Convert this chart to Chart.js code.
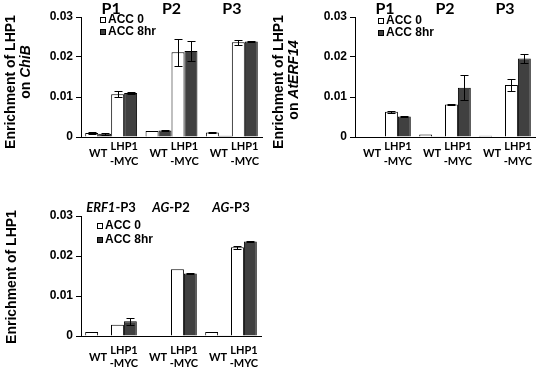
<!DOCTYPE html>
<html>
<head>
<meta charset="utf-8">
<script src="https://cdn.jsdelivr.net/npm/chart.js@4.4.0/dist/chart.umd.min.js"></script>
<style>
body { margin: 0; background: #fff; }
#wrap { position: relative; width: 537px; height: 371px; }
canvas { position: absolute; }
</style>
</head>
<body>
<div id="wrap">
  <canvas id="chib" width="268" height="175" style="left:0;top:0"></canvas>
  <canvas id="erf14" width="269" height="175" style="left:268px;top:0"></canvas>
  <canvas id="other" width="268" height="191" style="left:0;top:180px"></canvas>
</div>
<script>
// shared categories
const series = ['ACC 0', 'ACC 8hr'];
const genotypes = ['WT', ['LHP1', '-MYC']];
const yTicks = [0, 0.01, 0.02, 0.03];

// values per bar pair: WT-P1, LHP1-P1, WT-P2, LHP1-P2, WT-P3, LHP1-P3
const chibGroups = ['P1', 'P2', 'P3'];
const chibAcc0 = [0.0010, 0.0107, 0.0015, 0.0212, 0.0011, 0.0237];
const chibAcc0Err = [0.0003, 0.0008, 0.0001, 0.0034, 0.0002, 0.0006];
const chibAcc8 = [0.0008, 0.0110, 0.0016, 0.0215, 0.0003, 0.0239];
const chibAcc8Err = [0.0002, 0.0002, 0.0001, 0.0024, 0, 0.0001];

const erf14Groups = ['P1', 'P2', 'P3'];
const erf14Acc0 = [0.0001, 0.0063, 0.0006, 0.0081, 0.0003, 0.0130];
const erf14Acc0Err = [0, 0.0002, 0, 0.0002, 0, 0.0014];
const erf14Acc8 = [0.0001, 0.0051, 0.0002, 0.0123, 0.0001, 0.0196];
const erf14Acc8Err = [0, 0.0001, 0, 0.0031, 0, 0.0012];

// *...* = italic
const otherGroups = ['*ERF1*-P3', '*AG*-P2', '*AG*-P3'];
const otherAcc0 = [0.0010, 0.0028, 0.0001, 0.0167, 0.0010, 0.0222];
const otherAcc0Err = [0.0001, 0, 0, 0, 0.0001, 0.0004];
const otherAcc8 = [0.0001, 0.0037, 0, 0.0156, 0.0002, 0.0236];
const otherAcc8Err = [0, 0.0009, 0, 0.0002, 0, 0.0002];

const ARIAL = '"Liberation Sans", Arial, sans-serif';
const LATO = 'Lato, "Liberation Sans", sans-serif';
const DARK = '#404040';

function richText(ctx, str, x, y, size, family) {
  const parts = str.split('*');
  const font = k => (k % 2 ? 'italic ' : '') + 'bold ' + size + 'px ' + family;
  let w = 0;
  parts.forEach((p, k) => { ctx.font = font(k); w += ctx.measureText(p).width; });
  let cx = x - w / 2;
  ctx.textAlign = 'left';
  ctx.textBaseline = 'middle';
  parts.forEach((p, k) => {
    ctx.font = font(k);
    ctx.fillText(p, cx, y);
    cx += ctx.measureText(p).width;
  });
}

const extras = {
  id: 'extras',
  afterDatasetsDraw(chart) {
    const ctx = chart.ctx, y = chart.scales.y;
    ctx.save();
    ctx.strokeStyle = '#000';
    ctx.lineWidth = 1;
    chart.data.datasets.forEach((ds, i) => {
      chart.getDatasetMeta(i).data.forEach((bar, j) => {
        const e = ds.err[j];
        if (!e) return;
        const v = ds.data[j];
        const x = Math.round(bar.x) + 0.5;
        const yt = Math.round(y.getPixelForValue(v + e)) + 0.5;
        const yb = Math.round(y.getPixelForValue(Math.max(v - e, 0))) + 0.5;
        ctx.beginPath();
        ctx.moveTo(x, yt); ctx.lineTo(x, yb);
        ctx.moveTo(x - 4, yt); ctx.lineTo(x + 4, yt);
        ctx.moveTo(x - 4, yb); ctx.lineTo(x + 4, yb);
        ctx.stroke();
      });
    });
    ctx.restore();
  },
  afterDraw(chart, args, o) {
    const ctx = chart.ctx, a = chart.chartArea;
    const m = [0, 1, 2, 3].map(i => chart.getDatasetMeta(i).data);
    ctx.save();
    ctx.fillStyle = '#000';

    // pair labels under the bars + group titles on top
    chart.data.labels.forEach((g, j) => {
      genotypes.forEach((lab, k) => {
        const cx = (m[2 * k][j].x + m[2 * k + 1][j].x) / 2;
        ctx.font = 'bold 11px ' + LATO;
        ctx.textAlign = 'center';
        ctx.textBaseline = 'middle';
        if (Array.isArray(lab)) {
          ctx.fillText(lab[0], cx, a.bottom + o.l1Dy);
          ctx.fillText(lab[1], cx, a.bottom + o.l2Dy);
        } else {
          ctx.fillText(lab, cx, a.bottom + o.wtDy);
        }
      });
      richText(ctx, g, chart.scales.x.getPixelForValue(j), o.topY, o.topSize, LATO);
    });

    // legend
    series.forEach((s, k) => {
      const ly = o.legY + k * o.legGap;
      ctx.fillStyle = k ? DARK : '#fff';
      ctx.fillRect(o.legX, ly - 3, 6, 6);
      ctx.strokeStyle = '#000';
      ctx.lineWidth = 1;
      ctx.strokeRect(o.legX + 0.5, ly - 3 + 0.5, 5, 5);
      ctx.fillStyle = '#000';
      ctx.font = 'bold 12px ' + ARIAL;
      ctx.textAlign = 'left';
      ctx.textBaseline = 'middle';
      ctx.fillText(s, o.legX + 8, ly);
    });

    // rotated axis title
    o.title.forEach((t, k) => {
      ctx.save();
      ctx.translate(o.titleX[k], o.titleY[k]);
      ctx.rotate(-Math.PI / 2);
      richText(ctx, t, 0, 0, 14, ARIAL);
      ctx.restore();
    });
    ctx.restore();
  }
};

function makeChart(id, groups, acc0, acc0Err, acc8, acc8Err, lay) {
  const pick = (arr, g) => [arr[g], arr[g + 2], arr[g + 4]];
  const datasets = [0, 1].map(g => [
    { label: series[0], data: pick(acc0, g), err: pick(acc0Err, g), backgroundColor: '#fff' },
    { label: series[1], data: pick(acc8, g), err: pick(acc8Err, g), backgroundColor: DARK }
  ]).flat();
  datasets.forEach(d => {
    d.borderColor = '#000';
    d.borderWidth = 1;
    d.categoryPercentage = 0.86;
    d.barPercentage = 1.0;
  });

  return new Chart(document.getElementById(id), {
    type: 'bar',
    data: { labels: groups, datasets: datasets },
    plugins: [extras],
    options: {
      responsive: false,
      animation: false,
      layout: { padding: { top: lay.top, right: lay.right, left: 0, bottom: 0 } },
      plugins: {
        legend: { display: false },
        tooltip: { enabled: false },
        extras: lay
      },
      scales: {
        x: {
          ticks: { display: false },
          grid: { drawOnChartArea: false, drawTicks: false },
          border: { color: '#000', width: 1 },
          afterFit: s => { s.height = lay.xh; }
        },
        y: {
          min: 0,
          max: 0.03,
          afterBuildTicks: s => { s.ticks = yTicks.map(v => ({ value: v })); },
          ticks: {
            color: '#000',
            padding: 3,
            font: { family: ARIAL, size: 12, weight: 'bold' },
            callback: v => v === 0 ? '0' : v.toFixed(2)
          },
          grid: { drawOnChartArea: false, tickLength: 5, color: '#000' },
          border: { color: '#000', width: 1 },
          afterFit: s => { s.width = lay.yw; }
        }
      }
    }
  });
}

makeChart('chib', chibGroups, chibAcc0, chibAcc0Err, chibAcc8, chibAcc8Err, {
  top: 17, right: 6, yw: 81, xh: 38,
  wtDy: 16, l1Dy: 9, l2Dy: 24, topY: 9, topSize: 16,
  legX: 100, legY: 20, legGap: 12,
  title: ['Enrichment of LHP1', 'on *ChiB*'], titleX: [11, 26], titleY: [82, 72]
});

makeChart('erf14', erf14Groups, erf14Acc0, erf14Acc0Err, erf14Acc8, erf14Acc8Err, {
  top: 17, right: 2, yw: 87, xh: 38,
  wtDy: 16, l1Dy: 9, l2Dy: 24, topY: 9, topSize: 16,
  legX: 110, legY: 21, legGap: 12,
  title: ['Enrichment of LHP1', 'on *AtERF14*'], titleX: [11, 26], titleY: [82, 80]
});

makeChart('other', otherGroups, otherAcc0, otherAcc0Err, otherAcc8, otherAcc8Err, {
  top: 36, right: 7, yw: 81, xh: 35,
  wtDy: 21, l1Dy: 14, l2Dy: 27, topY: 28, topSize: 13,
  legX: 97, legY: 46, legGap: 14,
  title: ['Enrichment of LHP1'], titleX: [12], titleY: [97]
});
</script>
</body>
</html>
